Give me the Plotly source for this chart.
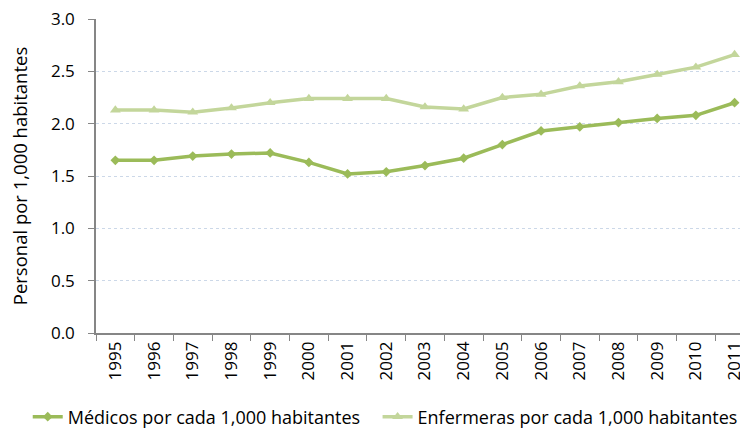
import plotly.graph_objects as go

years = [str(y) for y in range(1995, 2012)]
medicos = [1.65, 1.65, 1.69, 1.71, 1.72, 1.63, 1.52, 1.54, 1.60, 1.67, 1.80, 1.93, 1.97, 2.01, 2.05, 2.08, 2.20]
enfermeras = [2.13, 2.13, 2.11, 2.15, 2.20, 2.24, 2.24, 2.24, 2.16, 2.14, 2.25, 2.28, 2.36, 2.40, 2.47, 2.54, 2.66]

FONT = "Open Sans"

fig = go.Figure()
fig.add_trace(go.Scatter(
    x=years, y=medicos, mode="lines+markers",
    name="Médicos por cada 1,000 habitantes",
    line=dict(color="#9BBB59", width=3.5),
    marker=dict(symbol="diamond", size=7.5, color="#9BBB59"),
    legend="legend",
))
fig.add_trace(go.Scatter(
    x=years, y=enfermeras, mode="lines+markers",
    name="Enfermeras por cada 1,000 habitantes",
    line=dict(color="#C3D69B", width=3.5),
    marker=dict(symbol="triangle-up", size=9.5, color="#C3D69B"),
    legend="legend2",
))

fig.update_layout(
    width=740, height=429,
    margin=dict(l=96, r=0, t=19, b=96, autoexpand=False),
    paper_bgcolor="white", plot_bgcolor="white",
    font=dict(family=FONT, size=17, color="#000000"),
    showlegend=True,
    legend=dict(orientation="h", x=-0.106, xanchor="left", y=-0.2675, yanchor="middle",
                font=dict(size=18), itemwidth=30),
    legend2=dict(orientation="h", x=1.004, xanchor="right", y=-0.2675, yanchor="middle",
                 font=dict(size=18), itemwidth=30),
    xaxis=dict(
        type="category", range=[-0.5, 16.14], automargin=False,
        showline=True, linecolor="#868686", linewidth=1.5,
        ticks="outside", tickson="boundaries", ticklen=6, tickcolor="#868686",
        tickangle=-90, showgrid=False, tickfont=dict(size=17),
    ),
    yaxis=dict(
        range=[0, 3.0], dtick=0.5, tickformat=".1f", automargin=False,
        showline=True, linecolor="#868686", linewidth=1.5,
        ticks="outside", ticklen=6, tickcolor="#868686", ticklabelstandoff=10,
        showgrid=True, gridcolor="#CCD8E8", griddash="dot", gridwidth=1,
        zeroline=False, tickfont=dict(size=17),
        title=dict(text="Personal por 1,000 habitantes", font=dict(size=18.5), standoff=18),
    ),
)

fig.write_html("out.html", config={"displayModeBar": False},
               post_script="document.body.style.margin='0';")
